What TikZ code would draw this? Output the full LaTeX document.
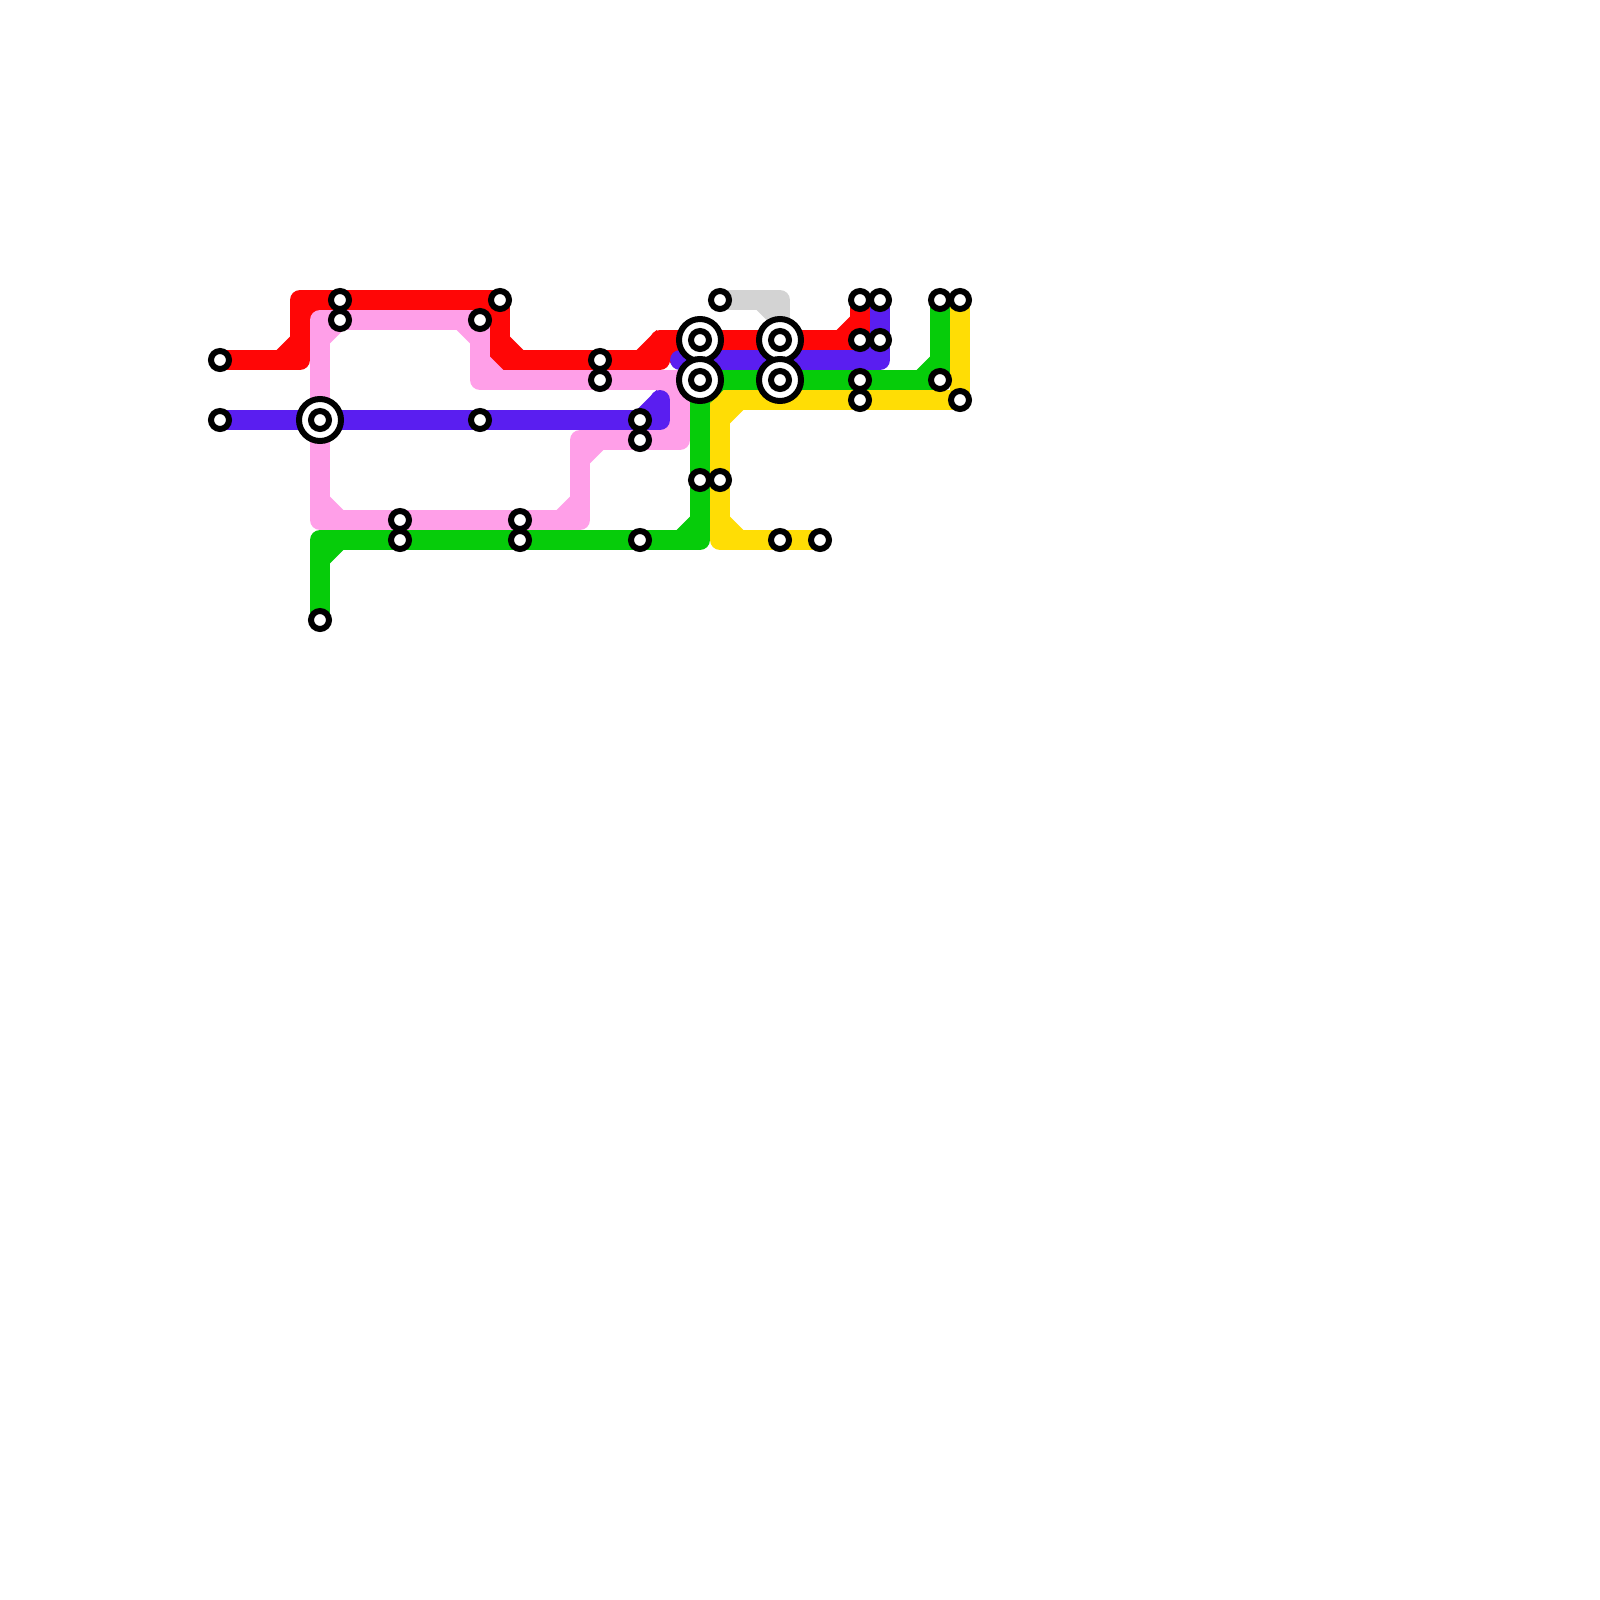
\documentclass[tikz,border=0pt]{standalone}
\usepackage{xcolor}
\usetikzlibrary{backgrounds}

\definecolor{lineRed}{HTML}{FF0606}
\definecolor{linePurple}{HTML}{5A1EF0}
\definecolor{linePink}{HTML}{FF9FE8}
\definecolor{lineGreen}{HTML}{06CC0A}
\definecolor{lineYellow}{HTML}{FFDD05}
\definecolor{lineGrey}{HTML}{D3D3D3}

\tikzset{
	route/.style={line width=0.5cm,line join=round,line cap=round},
	stn/.style={circle,draw=black,fill=white,line width=0.15cm,minimum size=0.45cm,inner sep=0pt,outer sep=0pt},
	hub/.style={circle,draw=black,fill=white,line width=0.15cm,minimum size=1.05cm,inner sep=0pt,outer sep=0pt}
}

% fills the inside of a bend: colour, bend, side in x, side in y
\newcommand{\notch}[4]{\fill[#1] (#2) -- ++(#3*1.167,#4*0.5) -- ++(-#3*0.667,#4*0.667) -- cycle;}
% the same for a short step, where the slope runs on to the next bend
\newcommand{\stepfill}[3]{\fill[#1] (#2) ++(-1.167,-0.5) -- ++(1,-1) -- (#3) -- (#2) -- cycle;}

\begin{document}
\begin{tikzpicture}[x=0.5cm,y=-0.5cm]
	\path[use as bounding box] (0,0) rectangle (80,80);

	\foreach \name/\x/\y in {hubA/16/21,hubB/35/17,hubC/35/19,hubD/39/17,hubE/39/19}
		\node[hub] (\name) at (\x,\y) {};
	\foreach \name/\x/\y in {hubAin/16/21,hubBin/35/17,hubCin/35/19,hubDin/39/17,hubEin/39/19,
		red1/11/18,red2/17/15,red3/25/15,red4/30/18,red5/43/17,red6/43/15,
		pnk1/17/16,pnk2/20/26,pnk3/26/26,pnk4/32/22,pnk5/30/19,pnk6/24/16,
		pur1/11/21,pur2/24/21,pur3/32/21,pur4/44/17,pur5/44/15,
		grn1/16/31,grn2/20/27,grn3/26/27,grn4/32/27,grn5/35/24,grn6/43/19,grn7/47/19,grn8/47/15,
		yel1/48/15,yel2/48/20,yel3/43/20,yel4/36/24,yel5/39/27,yel6/41/27,
		gry1/36/15}
		\node[stn] (\name) at (\x,\y) {};

	\foreach \name/\x/\y in {redA/15/18,redB/15/15,redC/25/18,redD/33/18,redE/33/17,
		pnkA/16/16,pnkB/16/26,pnkC/29/26,pnkD/29/22,pnkE/34/22,pnkF/34/19,pnkG/24/19,
		purA/33/21,purB/33/20,purC/34/18,purD/44/18,
		grnA/16/27,grnB/35/27,
		yelA/36/20,yelB/36/27,
		gryA/39/15}
		\coordinate (\name) at (\x,\y);

	\begin{scope}[on background layer]
		% grey
		\draw[route,lineGrey] (gry1.center) -- (gryA) -- (hubD.center);
		\notch{lineGrey}{gryA}{-1}{1}
		% yellow
		\draw[route,lineYellow] (yel1.center) -- (yel2.center) -- (yel3.center) -- (yelA) -- (yel4.center) -- (yelB) -- (yel5.center) -- (yel6.center);
		\notch{lineYellow}{yelA}{1}{1}
		\notch{lineYellow}{yelB}{1}{-1}
		% green
		\draw[route,lineGreen] (grn1.center) -- (grnA) -- (grn2.center) -- (grn3.center) -- (grn4.center) -- (grnB) -- (grn5.center) -- (hubC.center) -- (hubE.center) -- (grn6.center) -- (grn7.center) -- (grn8.center);
		\notch{lineGreen}{grnA}{1}{1}
		\notch{lineGreen}{grnB}{-1}{-1}
		\notch{lineGreen}{hubC}{1}{1}
		\notch{lineGreen}{grn7}{-1}{-1}
		% red
		\draw[route,lineRed] (red1.center) -- (redA) -- (redB) -- (red2.center) -- (red3.center) -- (redC) -- (red4.center) -- (redD) -- (redE) -- (hubB.center) -- (hubD.center) -- (red5.center) -- (red6.center);
		\notch{lineRed}{redA}{-1}{-1}
		\notch{lineRed}{redB}{1}{1}
		\notch{lineRed}{red3}{-1}{1}
		\notch{lineRed}{redC}{1}{-1}
		\stepfill{lineRed}{redD}{redE}
		\notch{lineRed}{redE}{1}{1}
		\notch{lineRed}{red5}{-1}{-1}
		% pink
		\draw[route,linePink] (pnk1.center) -- (pnkA) -- (hubA.center) -- (pnkB) -- (pnk2.center) -- (pnk3.center) -- (pnkC) -- (pnkD) -- (pnk4.center) -- (pnkE) -- (pnkF) -- (pnk5.center) -- (pnkG) -- (pnk6.center) -- (pnk1.center);
		\notch{linePink}{pnkA}{1}{1}
		\notch{linePink}{pnkB}{1}{-1}
		\notch{linePink}{pnkC}{-1}{-1}
		\notch{linePink}{pnkD}{1}{1}
		\notch{linePink}{pnkE}{-1}{-1}
		\notch{linePink}{pnkF}{-1}{1}
		\notch{linePink}{pnkG}{1}{-1}
		\notch{linePink}{pnk6}{-1}{1}
		% purple
		\draw[route,linePurple] (pur1.center) -- (hubA.center) -- (pur2.center) -- (pur3.center) -- (purA) -- (purB);
		\stepfill{linePurple}{purA}{purB}
		\draw[route,linePurple] (purC) -- (purD) -- (pur4.center) -- (pur5.center);
		\notch{linePurple}{purD}{-1}{-1}
	\end{scope}
\end{tikzpicture}
\end{document}
